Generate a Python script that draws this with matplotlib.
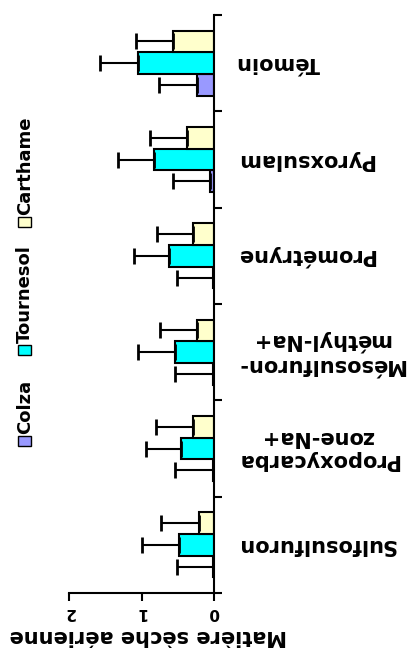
import numpy as np
import matplotlib
matplotlib.use("Agg")
import matplotlib.pyplot as plt
from matplotlib.patches import Rectangle

plt.rcParams['font.family'] = ['DejaVu Sans']
plt.rcParams['font.weight'] = 'bold'

categories = ['Sulfosulfuron', 'Propoxycarba\nzone-Na+', 'Mésosulfuron-\nméthyl-Na+',
              'Prométryne', 'Pyroxsulam', 'Témoin']
series = ['Colza', 'Tournesol', 'Carthame']
colors = {'Colza': '#9999FF', 'Tournesol': '#00FFFF', 'Carthame': '#FFFFCC'}

# mean values
colza = [0.02, 0.02, 0.02, 0.02, 0.05, 0.23]
tournesol = [0.48, 0.45, 0.54, 0.62, 0.83, 1.05]
carthame = [0.21, 0.29, 0.23, 0.29, 0.37, 0.57]
# error (one sided)
colza_err = [0.49, 0.52, 0.52, 0.49, 0.51, 0.53]
tournesol_err = [0.51, 0.49, 0.51, 0.48, 0.49, 0.52]
carthame_err = [0.52, 0.51, 0.52, 0.49, 0.51, 0.51]

values = {'Colza': colza, 'Tournesol': tournesol, 'Carthame': carthame}
errors = {'Colza': colza_err, 'Tournesol': tournesol_err, 'Carthame': carthame_err}

W, H = 411, 648
fig = plt.figure(figsize=(W / 100, H / 100), dpi=100)
ax = fig.add_axes([69 / W, 1 - 593 / H, (214 - 69) / W, (593 - 15) / H])

h = 0.225
y = np.arange(len(categories)) + 0.5
for k, s in enumerate(series):
    err = errors[s]
    ax.barh(y + (k - 1) * h, values[s], height=h, color=colors[s],
            edgecolor='black', linewidth=1.5,
            xerr=[np.zeros(len(err)), err],
            error_kw=dict(ecolor='black', elinewidth=1.5, capsize=5.5, capthick=2))

ax.set_xlim(2, 0)
ax.set_ylim(0, len(categories))
ax.spines['left'].set_visible(False)
ax.spines['top'].set_visible(False)
ax.spines['right'].set_linewidth(1.5)
ax.spines['bottom'].set_linewidth(1.5)
ax.yaxis.set_ticks_position('right')
ax.set_yticks(range(len(categories) + 1))
ax.set_yticklabels([])
ax.set_xticks([0, 1, 2])
ax.tick_params(axis='both', direction='out', length=6, width=1.5)
ax.tick_params(axis='x', labelrotation=180, labelsize=11, pad=3)

for yi, lab in zip(y, categories):
    ax.text(1.155, yi, lab, rotation=180, ha='left', va='center',
            multialignment='center', fontsize=15, fontweight='bold',
            transform=ax.get_yaxis_transform())

fig.text(148 / W, 1 - 636 / H, 'Matière sèche aérienne', rotation=180,
         ha='center', va='center', fontsize=15, fontweight='bold')

# legend, turned sideways
leg_sq = {'Colza': 436, 'Tournesol': 345, 'Carthame': 217}
for s in series:
    top = leg_sq[s]
    fig.patches.append(Rectangle((18 / W, 1 - (top + 10) / H), 13 / W, 10 / H,
                                 transform=fig.transFigure, facecolor=colors[s],
                                 edgecolor='black', linewidth=1))
    fig.text(25 / W, 1 - (top - 2) / H, s, rotation=90, ha='center', va='bottom',
             fontsize=13, fontweight='bold')

fig.savefig('out.png', dpi=100)
